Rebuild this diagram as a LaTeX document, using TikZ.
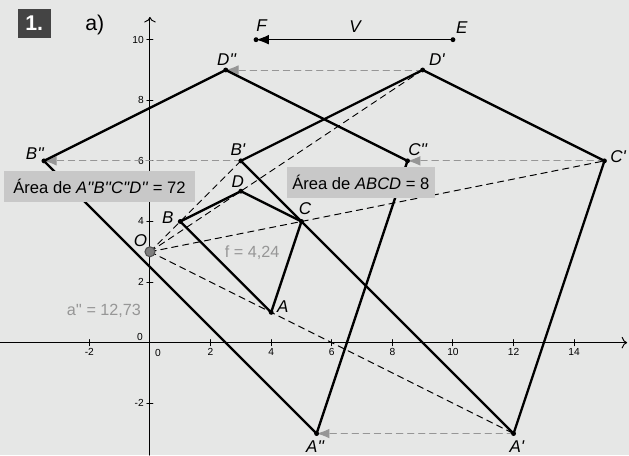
\documentclass[tikz,border=0pt]{standalone}
\usepackage{fontspec}
\setmainfont{Liberation Sans}
\usetikzlibrary{arrows.meta}

\definecolor{bg}{RGB}{230,231,230}
\definecolor{boxgray}{RGB}{200,200,200}
\definecolor{txtgray}{RGB}{150,150,150}
\definecolor{arrgray}{RGB}{150,150,150}
\definecolor{tagdark}{RGB}{68,68,68}
\definecolor{ofill}{RGB}{125,125,125}
\definecolor{odraw}{RGB}{80,80,80}

\newcommand{\pr}{\textquotesingle}

\begin{document}
\begin{tikzpicture}[x=0.5cm, y=0.5cm, line cap=round, line join=round,
  axis/.style={line width=0.45pt},
  side/.style={line width=1.1pt},
  ray/.style={line width=0.45pt, dash pattern=on 3pt off 2.2pt},
  move/.style={arrgray, line width=0.45pt, dash pattern=on 3pt off 2.2pt, -{Latex[length=6pt,width=4.5pt]}},
  vec/.style={line width=0.5pt, -{Latex[length=6pt,width=4.5pt]}},
  lbl/.style={font=\fontsize{8}{9}\selectfont\itshape, inner sep=0pt},
  tick/.style={font=\fontsize{4.8}{5}\selectfont, inner sep=1pt},
  val/.style={font=\fontsize{7.6}{8}\selectfont, text=txtgray, inner sep=0pt},
  areabox/.style={fill=boxgray, font=\fontsize{7.8}{8}\selectfont, inner sep=0pt, minimum height=0.52cm}]

% Background
\fill[bg] (-4.95,-3.71) rectangle (15.81,11.31);
\useasboundingbox (-4.95,-3.71) rectangle (15.81,11.31);

% Axes
\draw[axis, ->] (-4.95,0) -- (15.75,0);
\draw[axis, ->] (0,-3.71) -- (0,10.75);
\foreach \x in {-2,2,4,...,14} {
  \draw[axis] (\x,-0.1) -- (\x,0.1);
  \node[tick, below] (tx\x) at (\x,-0.12) {\x};
}
\foreach \y in {-2,2,4,...,10} {
  \draw[axis] (-0.1,\y) -- (0.1,\y);
  \node[tick, left] (ty\y) at (-0.12,\y) {\y};
}
\node[tick] (tx0) at (0.26,-0.34) {0};
\node[tick] (ty0) at (-0.33,0.19) {0};

% Points
\coordinate (O) at (0,3);
\coordinate (A) at (4,1);
\coordinate (B) at (1,4);
\coordinate (C) at (5,4);
\coordinate (D) at (3,5);
\coordinate (A1) at (12,-3);
\coordinate (B1) at (3,6);
\coordinate (C1) at (15,6);
\coordinate (D1) at (9,9);
\coordinate (A2) at (5.5,-3);
\coordinate (B2) at (-3.5,6);
\coordinate (C2) at (8.5,6);
\coordinate (D2) at (2.5,9);
\coordinate (E) at (10,10);
\coordinate (F) at (3.5,10);

% Homothety rays from O
\foreach \p in {A1,B1,C1,D1}
  \draw[ray] (O) -- (\p);

% Translation by V
\draw[move] (A1) -- (A2);
\draw[move] (B1) -- (B2);
\draw[move] (C1) -- (C2);
\draw[move] (D1) -- (D2);
\draw[vec] (E) -- (F);

% Quadrilaterals
\draw[side] (A) -- (B) -- (D) -- (C) -- cycle;
\draw[side] (A1) -- (B1) -- (D1) -- (C1) -- cycle;
\draw[side] (A2) -- (B2) -- (D2) -- (C2) -- cycle;

% Dots
\foreach \p in {A,B,C,D,A1,B1,C1,D1,A2,B2,C2,D2,E,F}
  \fill (\p) circle (1.15pt);
\filldraw[fill=ofill, draw=odraw, line width=0.5pt] (O) circle (2.35pt);

% Labels
\node[lbl] (lO) at (-0.31,3.37) {O};
\node[lbl] (lA) at (4.38,1.19) {A};
\node[lbl] (lB) at (0.59,4.12) {B};
\node[lbl] (lC) at (5.12,4.41) {C};
\node[lbl] (lD) at (2.90,5.31) {D};
\node[lbl] (lA1) at (12.11,-3.43) {A\pr};
\node[lbl] (lB1) at (2.90,6.36) {B\pr};
\node[lbl] (lC1) at (15.45,6.14) {C\pr};
\node[lbl] (lD1) at (9.47,9.33) {D\pr};
\node[lbl] (lA2) at (5.45,-3.43) {A\pr\pr};
\node[lbl] (lB2) at (-3.80,6.25) {B\pr\pr};
\node[lbl] (lC2) at (8.84,6.36) {C\pr\pr};
\node[lbl] (lD2) at (2.53,9.33) {D\pr\pr};
\node[lbl] (lE) at (10.29,10.39) {E};
\node[lbl] (lF) at (3.68,10.48) {F};
\node[lbl] (lV) at (6.77,10.42) {V};

% Values
\node[val] (fval) at (3.37,2.96) {f = 4,24};
\node[val] (aval) at (-1.52,1.06) {a\pr\pr\ = 12,73};

% Area boxes
\node[areabox, minimum width=3.15cm] (area2) at (-1.667,5.15) {Área de \textit{A\pr\pr B\pr\pr C\pr\pr D\pr\pr} = 72};
\node[areabox, minimum width=2.44cm] (area1) at (6.96,5.29) {Área de \textit{ABCD} = 8};

% Heading
\node[fill=tagdark, text=white, font=\fontsize{10}{11}\selectfont\bfseries, minimum width=0.54cm, minimum height=0.475cm, inner sep=0pt] (num) at (-3.82,10.54) {1.};
\node[font=\fontsize{10}{11}\selectfont, inner sep=0pt] (part) at (-1.82,10.48) {a)};

\end{tikzpicture}
\end{document}
